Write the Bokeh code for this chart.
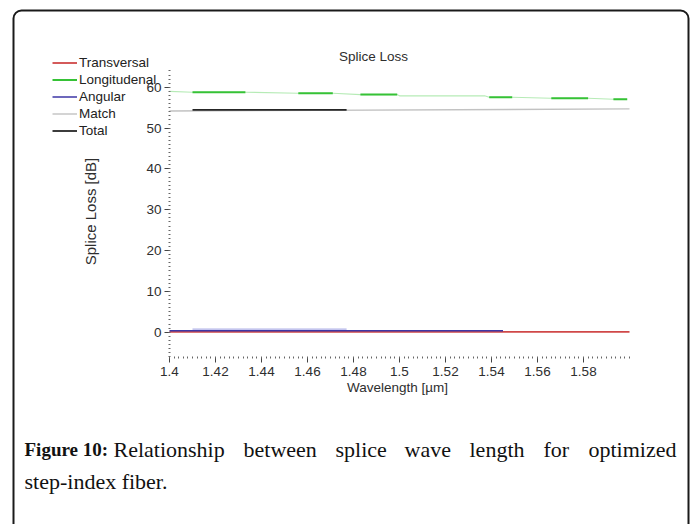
import math
from bokeh.plotting import figure
from bokeh.models import Range1d, FixedTicker, Label, Legend, LegendItem, BoxAnnotation, LinearAxis
from bokeh.embed import file_html
from bokeh.resources import INLINE
import numpy as np

# ---------------- data ----------------
x_ticks = [1.40, 1.42, 1.44, 1.46, 1.48, 1.50, 1.52, 1.54, 1.56, 1.58]
x_tick_labels = ["1.4", "1.42", "1.44", "1.46", "1.48", "1.5", "1.52", "1.54", "1.56", "1.58"]
y_ticks = [0, 10, 20, 30, 40, 50, 60]
y_tick_labels = ["0", "10", "20", "30", "40", "50", "60"]

trans_wl = [1.40, 1.60]
trans_loss = [0.1, 0.1]

ang_wl = [1.40, 1.545]
ang_loss = [0.35, 0.35]
ang_faint_wl = [1.41, 1.477]
ang_faint_loss = [0.75, 0.75]

match_wl = [1.40, 1.60]
match_loss = [54.2, 54.7]

total_wl = [1.41, 1.477]
total_loss = [54.45, 54.45]

long_wl = [1.40, 1.41, 1.433, 1.456, 1.471, 1.483, 1.499, 1.50, 1.537, 1.539, 1.549, 1.566, 1.582, 1.593, 1.599]
long_loss = [59.0, 58.8, 58.8, 58.55, 58.55, 58.2, 58.2, 57.9, 57.9, 57.55, 57.55, 57.3, 57.3, 57.05, 57.05]
long_seg_start = [1.41, 1.456, 1.483, 1.539, 1.566, 1.593]
long_seg_end = [1.433, 1.471, 1.499, 1.549, 1.582, 1.599]
long_seg_loss = [58.8, 58.55, 58.2, 57.55, 57.3, 57.05]

caption_words = ["Relationship", "between", "splice", "wave", "length", "for", "optimized"]
caption_word_x = [113, 243, 335, 404, 469, 543, 588]

# ---------------- layout geometry (pixels) ----------------
W, H = 693, 524
X0, X1 = 1.4, 1.6        # axis span
Y0, Y1 = -6.2, 64.6
PX0, PX1 = 169, 629      # canvas x of X0, X1
PY0, PY1 = 357, 68       # canvas y of Y0, Y1
sx = (X1 - X0) / (PX1 - PX0)
sy = (Y1 - Y0) / (PY0 - PY1)
x_range = Range1d(X0 - PX0 * sx, X1 + (W - PX1) * sx)
y_range = Range1d(Y0 - (H - PY0) * sy, Y1 + PY1 * sy)


def SX(cx):
    return cx


def SY(cy):
    return H - cy


p = figure(width=W, height=H, x_range=x_range, y_range=y_range,
           x_axis_type=None, y_axis_type=None,
           output_backend="svg", toolbar_location=None,
           min_border_left=0, min_border_right=0, min_border_top=0, min_border_bottom=0)
p.grid.visible = False
p.outline_line_color = None
p.background_fill_color = "white"
p.border_fill_color = "white"

r_trans = p.line(trans_wl, trans_loss, line_color="#d04848", line_width=1.8)
p.line(ang_faint_wl, ang_faint_loss, line_color="#b0b2e8", line_width=1.2)
r_ang = p.line(ang_wl, ang_loss, line_color="#3d36a6", line_width=1.5)
r_match = p.line(match_wl, match_loss, line_color="#c2c2c2", line_width=1.4)
r_total = p.line(total_wl, total_loss, line_color="#262626", line_width=1.8)
p.line(long_wl, long_loss, line_color="#b6ebb6", line_width=1.1)
r_long = p.segment(x0=long_seg_start, y0=long_seg_loss, x1=long_seg_end, y1=long_seg_loss,
                   line_color="#36c236", line_width=2)

# axes, fixed inside the canvas-wide frame
xaxis = LinearAxis(fixed_location=Y0,
                   ticker=FixedTicker(ticks=x_ticks,
                                      minor_ticks=[round(v, 4) for v in np.arange(1.4, 1.6001, 0.002)]),
                   major_label_overrides=dict(zip(x_ticks, x_tick_labels)))
yaxis = LinearAxis(fixed_location=X0,
                   ticker=FixedTicker(ticks=y_ticks, minor_ticks=list(range(-6, 65))),
                   major_label_overrides=dict(zip(y_ticks, y_tick_labels)))
for ax in (xaxis, yaxis):
    ax.axis_line_color = None
    ax.major_tick_line_color = "#444444"
    ax.major_tick_in = 0
    ax.major_tick_out = 5
    ax.minor_tick_line_color = "#666666"
    ax.minor_tick_in = 1
    ax.minor_tick_out = 1
    ax.major_label_text_font = "Liberation Sans"
    ax.major_label_text_font_size = "13.5px"
    ax.major_label_text_color = "#2e2e2e"
xaxis.major_label_standoff = 4
yaxis.major_label_standoff = 3
p.add_layout(xaxis, "below")
p.add_layout(yaxis, "left")

label_kw = dict(x_units="screen", y_units="screen", text_font="Liberation Sans", text_color="#2e2e2e",
                text_align="center", text_baseline="middle")
# axis titles and chart title
p.add_layout(Label(x=SX(397), y=SY(387), text="Wavelength [µm]", text_font_size="13.5px", **label_kw))
p.add_layout(Label(x=SX(90), y=SY(211), text="Splice Loss [dB]", text_font_size="15px",
                   angle=math.pi / 2, **label_kw))
p.add_layout(Label(x=SX(373), y=SY(56), text="Splice Loss", text_font_size="13.5px", **label_kw))

# legend
legend = Legend(items=[
    LegendItem(label="Transversal", renderers=[r_trans]),
    LegendItem(label="Longitudenal", renderers=[r_long]),
    LegendItem(label="Angular", renderers=[r_ang]),
    LegendItem(label="Match", renderers=[r_match]),
    LegendItem(label="Total", renderers=[r_total]),
], location=(SX(52), SY(139)), glyph_width=25, glyph_height=17, label_height=17, spacing=0,
    padding=0, margin=0, label_standoff=2, label_text_font="Liberation Sans",
    label_text_font_size="13.5px", label_text_color="#222222",
    border_line_color=None, background_fill_alpha=0)
p.add_layout(legend)

# outer rounded frame
p.add_layout(BoxAnnotation(left=SX(13), right=SX(688), top=SY(10), bottom=SY(560),
                           left_units="screen", right_units="screen", top_units="screen",
                           bottom_units="screen", fill_alpha=0, line_color="#1a1a1a", line_alpha=1.0,
                           line_width=2, border_radius=8, level="overlay"))

# caption
cap_kw = dict(x_units="screen", y_units="screen", text_font="Liberation Serif",
              text_color="#111111", text_baseline="middle")
p.add_layout(Label(x=SX(24), y=SY(449), text="Figure 10:", text_font_style="bold",
                   text_font_size="19px", **cap_kw))
for w, xw in zip(caption_words, caption_word_x):
    p.add_layout(Label(x=SX(xw), y=SY(449), text=w, text_font_size="22px", **cap_kw))
p.add_layout(Label(x=SX(24), y=SY(481), text="step-index fiber.", text_font_size="22px", **cap_kw))

open("out.html", "w").write(file_html(p, INLINE))
